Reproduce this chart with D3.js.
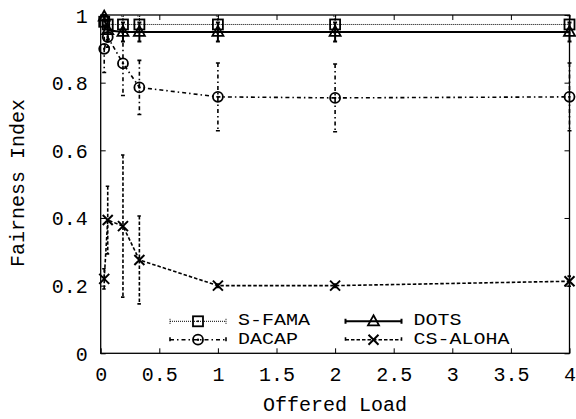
<!DOCTYPE html>
<html><head><meta charset="utf-8">
<script src="https://cdn.jsdelivr.net/npm/d3@7"></script>
<style>body{margin:0;background:#fff}svg text{font-family:"Liberation Mono","DejaVu Sans Mono",monospace;fill:#000}</style>
</head><body><svg id="c" width="576" height="419"></svg>
<script>
const loads = [0.03, 0.06, 0.19, 0.33, 1, 2, 4];
const sfama = [0.98, 0.972, 0.972, 0.972, 0.972, 0.972, 0.972];
const sfamaErr = [0.015, 0.025, 0.025, 0.025, 0.025, 0.025, 0.025];
const dots = [0.995, 0.955, 0.95, 0.95, 0.95, 0.95, 0.95];
const dotsErr = [0.01, 0.028, 0.028, 0.028, 0.028, 0.028, 0.028];
const dacap = [0.90, 0.935, 0.857, 0.786, 0.758, 0.755, 0.758];
const dacapErr = [0.07, 0.03, 0.095, 0.08, 0.1, 0.1, 0.1];
const csaloha = [0.22, 0.394, 0.376, 0.276, 0.2, 0.2, 0.213];
const csalohaErr = [0.03, 0.1, 0.21, 0.13, 0.005, 0.005, 0.015];
const xTicks = [0, 0.5, 1, 1.5, 2, 2.5, 3, 3.5, 4];
const yTicks = [0, 0.2, 0.4, 0.6, 0.8, 1];
const seriesNames = ["S-FAMA", "DOTS", "DACAP", "CS-ALOHA"];

const svg = d3.select("#c");
const L = 100.7, R = 569.5, T = 15, B = 353.3;
const x = d3.scaleLinear().domain([0, 4]).range([L, R]);
const y = d3.scaleLinear().domain([0, 1]).range([B, T]);

const styles = {
  "S-FAMA": {dash: "1,1", w: 1, marker: "square"},
  "DOTS": {dash: null, w: 2, marker: "triangle"},
  "DACAP": {dash: "4,3,1.5,3", w: 1.6, marker: "circle"},
  "CS-ALOHA": {dash: "3.5,2", w: 1.6, marker: "cross"}
};
const series = [
  {name: "S-FAMA", vals: sfama, err: sfamaErr},
  {name: "DOTS", vals: dots, err: dotsErr},
  {name: "DACAP", vals: dacap, err: dacapErr},
  {name: "CS-ALOHA", vals: csaloha, err: csalohaErr}
];

const fmt = d => d3.format("")(d);
const xb = svg.append("g").attr("transform", `translate(0,${B})`)
  .call(d3.axisBottom(x).tickValues(xTicks).tickSize(-5).tickPadding(14).tickFormat(fmt));
const xt = svg.append("g").attr("transform", `translate(0,${T})`)
  .call(d3.axisTop(x).tickValues(xTicks).tickSize(-5).tickFormat(""));
const yl = svg.append("g").attr("transform", `translate(${L},0)`)
  .call(d3.axisLeft(y).tickValues(yTicks).tickSize(-5).tickPadding(13).tickFormat(fmt));
const yr = svg.append("g").attr("transform", `translate(${R},0)`)
  .call(d3.axisRight(y).tickValues(yTicks).tickSize(-5).tickFormat(""));
[xb, xt, yl, yr].forEach(g => {
  g.select(".domain").remove();
  g.selectAll("line").attr("stroke", "#000").attr("stroke-width", 1);
  g.selectAll("text").style("font-size", "20px").attr("fill", "#000");
});
xb.selectAll("text").attr("dy", "0.71em");
yl.selectAll("text").attr("dy", "0.35em");

svg.append("rect").attr("x", L).attr("y", T).attr("width", R - L).attr("height", B - T)
  .attr("fill", "none").attr("stroke", "#000").attr("stroke-width", 1.3);

svg.append("text").attr("x", (L + R) / 2).attr("y", 406).attr("text-anchor", "middle")
  .attr("dominant-baseline", "middle").style("font-size", "20px").text("Offered Load");
svg.append("text").attr("transform", "translate(19,183) rotate(-90)").attr("text-anchor", "middle")
  .attr("dominant-baseline", "middle").style("font-size", "20px").text("Fairness Index");

function drawMarker(g, type, cx, cy) {
  const s = 5;
  if (type === "square") {
    g.append("rect").attr("x", cx - s).attr("y", cy - s).attr("width", 2 * s).attr("height", 2 * s)
      .attr("fill", "none").attr("stroke", "#000").attr("stroke-width", 1.8);
    g.append("circle").attr("cx", cx).attr("cy", cy).attr("r", 1).attr("fill", "#000");
  } else if (type === "circle") {
    g.append("circle").attr("cx", cx).attr("cy", cy).attr("r", s)
      .attr("fill", "none").attr("stroke", "#000").attr("stroke-width", 1.8);
    g.append("circle").attr("cx", cx).attr("cy", cy).attr("r", 1.2).attr("fill", "#000");
  } else if (type === "triangle") {
    g.append("path").attr("d", `M${cx},${cy - 6}L${cx + 5.5},${cy + 4}L${cx - 5.5},${cy + 4}Z`)
      .attr("fill", "none").attr("stroke", "#000").attr("stroke-width", 1.8);
  } else if (type === "cross") {
    g.append("path").attr("d", `M${cx - s},${cy - s}L${cx + s},${cy + s}M${cx - s},${cy + s}L${cx + s},${cy - s}`)
      .attr("stroke", "#000").attr("stroke-width", 2);
  }
}

const plot = svg.append("g");
series.forEach(s => {
  const st = styles[s.name];
  const g = plot.append("g");
  const pts = loads.map((l, i) => ({x: l, v: s.vals[i], e: s.err[i]}));
  pts.forEach(p => {
    const px = x(p.x), y1 = y(Math.min(1, p.v + p.e)), y2 = y(p.v - p.e);
    g.append("path").attr("d", `M${px},${y1}L${px},${y2}M${px - 2},${y1}L${px + 2},${y1}M${px - 2},${y2}L${px + 2},${y2}`)
      .attr("stroke", "#000").attr("stroke-width", st.w).attr("fill", "none")
      .attr("stroke-dasharray", st.dash);
  });
  g.append("path").datum(pts)
    .attr("d", d3.line().x(p => x(p.x)).y(p => y(p.v)))
    .attr("fill", "none").attr("stroke", "#000").attr("stroke-width", st.w)
    .attr("stroke-dasharray", st.dash);
  pts.forEach(p => drawMarker(g, st.marker, x(p.x), y(p.v)));
});

const legendPos = [
  {name: "S-FAMA", lx: 170, ly: 321.3},
  {name: "DOTS", lx: 345.5, ly: 321.3},
  {name: "DACAP", lx: 170, ly: 339.7},
  {name: "CS-ALOHA", lx: 345.5, ly: 339.7}
];
const lg = svg.append("g");
legendPos.forEach(p => {
  const st = styles[p.name];
  const x1 = p.lx, x2 = p.lx + 56, yy = p.ly;
  lg.append("path").attr("d", `M${x1},${yy}L${x2},${yy}M${x1},${yy - 2.5}L${x1},${yy + 2.5}M${x2},${yy - 2.5}L${x2},${yy + 2.5}`)
    .attr("stroke", "#000").attr("stroke-width", st.w).attr("fill", "none").attr("stroke-dasharray", st.dash);
  drawMarker(lg, st.marker, (x1 + x2) / 2, yy);
  lg.append("text").attr("transform", `translate(${x2 + 12},${yy}) scale(1,0.78)`)
    .attr("dominant-baseline", "middle")
    .style("font-size", "20px").text(p.name);
});
</script></body></html>
